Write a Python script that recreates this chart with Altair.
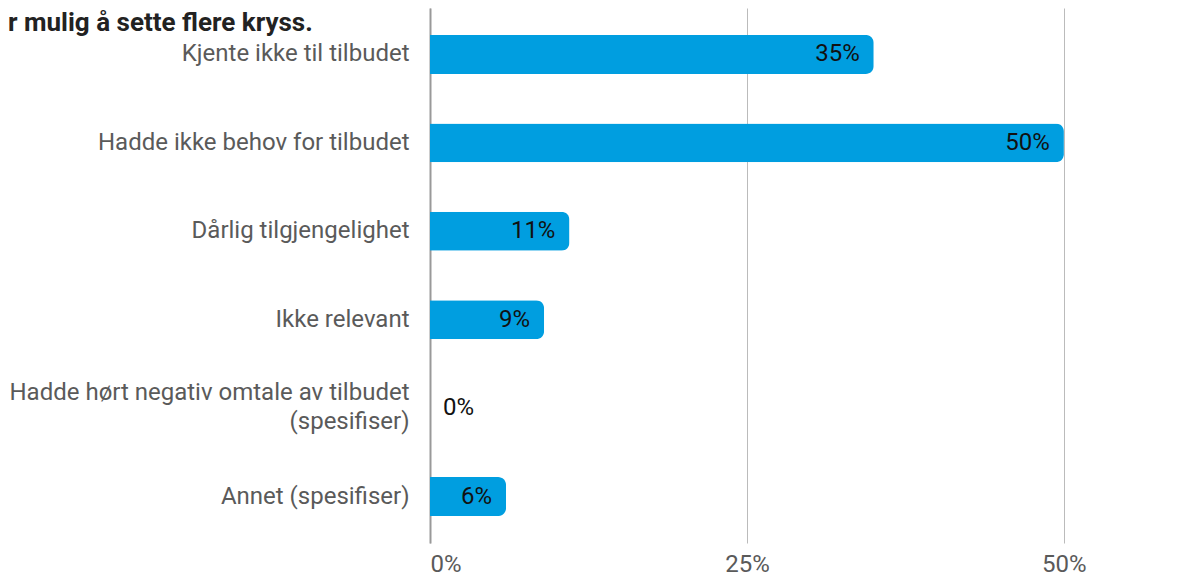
import altair as alt
import pandas as pd

categories = [
    "Kjente ikke til tilbudet",
    "Hadde ikke behov for tilbudet",
    "Dårlig tilgjengelighet",
    "Ikke relevant",
    "Hadde hørt negativ omtale av tilbudet|(spesifiser)",
    "Annet (spesifiser)",
]
values = [0.35, 0.50, 0.11, 0.09, 0.0, 0.06]
x_ticks = [0, 0.25, 0.5]
title_lines = ["r mulig å sette flere kryss."]

df = pd.DataFrame({"kategori": categories, "andel": values})
title_df = pd.DataFrame({"tittel": title_lines})

FONT = "Roboto"
LABEL_GREY = "#5a5a5a"

y_enc = alt.Y(
    "kategori:N",
    sort=categories,
    scale=alt.Scale(paddingInner=0.56, paddingOuter=0.305),
    axis=alt.Axis(
        title=None,
        labelExpr="split(datum.label, '|')",
        labelFont=FONT,
        labelFontSize=24,
        labelColor=LABEL_GREY,
        labelPadding=21,
        labelLimit=600,
        labelLineHeight=29,
        labelOffset={
            "condition": {"test": "indexof(datum.value, '|') >= 0", "value": -15},
            "value": 0,
        },
        ticks=False,
        domain=True,
        domainColor="#999999",
        domainWidth=2,
        grid=False,
    ),
)

x_enc = alt.X(
    "andel:Q",
    scale=alt.Scale(domain=[0, 0.59], nice=False, zero=True),
    axis=alt.Axis(
        title=None,
        values=x_ticks,
        format=".0%",
        labelFont=FONT,
        labelFontSize=24,
        labelColor=LABEL_GREY,
        labelPadding=9,
        labelFlush=True,
        ticks=False,
        domain=False,
        grid=True,
        gridColor="#bbbbbb",
        gridWidth=1,
    ),
)

base = alt.Chart(df)

bars = base.mark_bar(color="#009EE0", cornerRadiusEnd=8).encode(x=x_enc, y=y_enc)

labels_in = base.transform_filter("datum.andel > 0").mark_text(
    align="right", baseline="middle", dx=-14, font=FONT, fontSize=24, color="#111111"
).encode(
    x=alt.X("andel:Q"),
    y=alt.Y("kategori:N", sort=categories),
    text=alt.Text("andel:Q", format=".0%"),
)

labels_out = base.transform_filter("datum.andel <= 0").mark_text(
    align="left", baseline="middle", dx=13, font=FONT, fontSize=24, color="#111111"
).encode(
    x=alt.X("andel:Q"),
    y=alt.Y("kategori:N", sort=categories),
    text=alt.Text("andel:Q", format=".0%"),
)

title_mark = alt.Chart(title_df).mark_text(
    align="left", baseline="alphabetic", font=FONT, fontSize=26, fontWeight="bold",
    color="#222222",
).encode(
    text="tittel:N",
    x=alt.value(-422),
    y=alt.value(23),
)

chart = (
    alt.layer(bars, labels_in, labels_out, title_mark)
    .properties(
        width=748,
        height=535,
        autosize=alt.AutoSizeParams(type="none"),
        padding={"left": 422, "top": 0, "right": 0, "bottom": 34},
    )
    .configure_view(stroke=None)
)

chart.save("out.html", embed_options={"renderer": "svg", "actions": False})
